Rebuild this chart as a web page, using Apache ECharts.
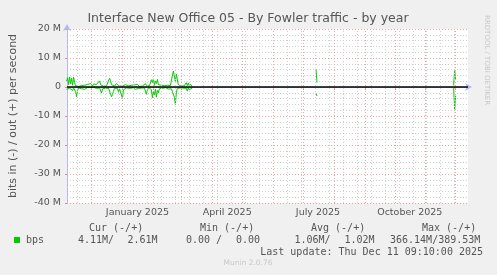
<!DOCTYPE html>
<html><head><meta charset="utf-8">
<script src="https://cdn.jsdelivr.net/npm/echarts@6/dist/echarts.min.js"></script>
<style>html,body{margin:0;padding:0;background:#F0F0F0;}#c{width:497px;height:275px;}</style>
</head><body><div id="c"></div>
<script>
// ---- data ----
const graphStart = '2024-11-06T09:10:00Z';
const graphEnd = '2025-12-11T09:10:00Z';
const yTicks = [-40, -30, -20, -10, 0, 10, 20]; // millions
const monthStarts = ['2024-12-01','2025-01-01','2025-02-01','2025-03-01','2025-04-01','2025-05-01','2025-06-01','2025-07-01','2025-08-01','2025-09-01','2025-10-01','2025-11-01','2025-12-01'];
const xLabelDates = ['2025-01-16','2025-04-16','2025-07-16','2025-10-16'];
const xLabelTexts = ['January 2025','April 2025','July 2025','October 2025'];
const minorGridFirst = '2024-11-17';
const segStarts = ['2024-11-06', '2025-07-14', '2025-11-29'];
// out (+) values, Mbit/s, one per day
const outSeg1 = [2.0,3.2,0.8,3.5,1.0,3.0,0.6,3.4,1.5,0.4, 0.3,0.5,0.2,0.6,0.3,0.5,0.8,0.3,0.6,0.2,
 0.5,0.9,1.1,0.7,1.2,1.0,0.3,1.0,1.2,0.5, 0.9,1.2,0.6,2.1,0.8,0.3,0.5,0.3,0.6,0.2,
 0.4,0.7,1.0,3.0,2.2,0.8,0.4,0.6,0.3,0.5, 1.2,1.2,0.8,0.3,0.2,0.5,0.3,0.6,0.2,0.8,
 0.5,0.9,0.4,0.7,0.3,0.6,1.0,0.4,0.7,0.3, 0.6,0.9,0.4,0.2,0.5,0.8,0.3,0.6,0.4,1.2,
 0.5,0.3,0.6,0.4,0.8,2.5,1.5,2.8,0.6,2.0, 1.2,2.6,0.8,0.5,0.3,0.6,0.4,0.2,0.5,0.8,
 0.3,0.6,0.4,0.9,0.5,0.3,1.0,5.5,6.0,2.0, 4.4,3.8,0.8,0.4,0.6,0.3,0.5,0.2,0.4,0.3,
 1.5,0.5,1.4,0.3,1.0,0.4,0.2];
const inSeg1 = [0.8,0.3,1.4,0.4,1.0,0.5,1.2,0.3,0.8,1.6, 3.4,1.2,0.3,0.5,0.2,0.6,0.3,0.4,0.8,0.3,
 0.4,0.2,0.1,0.3,0.2,0.6,0.2,0.1,0.3,0.2, 0.5,0.3,0.2,0.3,0.9,2.1,0.6,0.3,0.2,0.5,
 0.3,0.2,0.4,0.3,1.0,3.4,2.5,1.5,0.4,0.3, 0.6,0.5,1.8,0.6,0.5,1.2,3.9,1.0,0.4,0.5,
 0.3,0.7,0.3,0.5,0.9,0.4,0.3,0.6,0.2,0.8, 0.4,0.3,0.5,0.3,0.7,0.4,0.2,0.5,0.3,0.6,
 2.5,1.0,0.4,0.3,0.5,1.0,3.7,1.5,2.8,0.8, 3.5,1.2,2.0,0.6,0.4,0.3,0.5,0.3,0.6,0.2,
 0.4,0.3,0.7,0.3,0.4,0.6,0.5,1.0,3.5,6.0, 2.0,0.5,0.4,0.6,0.3,0.5,0.2,0.4,0.3,0.5,
 0.4,1.4,0.3,1.0,0.5,1.2,0.3];
const outSeg2 = [6.1, 1.5];
const inSeg2 = [2.3, 3.1];
const outSeg3 = [0.6, 5.8, 2.5];
const inSeg3 = [0.4, 8.0, 3.0];
const legendHeaders = ['Cur (-/+)','Min (-/+)','Avg (-/+)','Max (-/+)'];
const seriesName = 'bps';
const curVals = ['4.11M/', '2.61M'];
const minVals = ['0.00 /', '0.00'];
const avgVals = ['1.06M/', '1.02M'];
const maxVals = ['366.14M/389.53M'];
const lastUpdate = 'Last update: Thu Dec 11 09:10:00 2025';
const titleText = 'Interface New Office 05 - By Fowler traffic - by year';
const yName = 'bits in (-) / out (+) per second';

// ---- helpers ----
const DAY = 86400000;
const t0 = Date.parse(graphStart);
const dayOf = s => (Date.parse(s.length === 10 ? s + 'T00:00:00Z' : s) - t0) / DAY;
const xMax = dayOf(graphEnd) + 2;
function segData(start, vals, sign) {
  const d0 = dayOf(start);
  return vals.map((v, i) => [d0 + i, sign * v * 1e6]);
}
function joinSegs(segs, sign) {
  let out = [];
  segs.forEach((s, k) => {
    if (k > 0) out.push([dayOf(segStarts[k]) - 0.5, null]);
    out = out.concat(segData(segStarts[k], s, sign));
  });
  return out;
}
const outData = joinSegs([outSeg1, outSeg2, outSeg3], 1);
const inData = joinSegs([inSeg1, inSeg2, inSeg3], -1);
const minorDays = [];
for (let d = dayOf(minorGridFirst); d < xMax; d += 14) minorDays.push(d);
const majorDays = monthStarts.map(dayOf);

const green = '#00CC00';
const chart = echarts.init(document.getElementById('c'), null, {renderer: 'canvas'});
const vline = (d, color) => ({xAxis: d, lineStyle: {color: color, type: [1, 2], width: 1}});
chart.setOption({
  animation: false,
  backgroundColor: '#F0F0F0',
  grid: {left: 66, top: 29, width: 402, height: 174, backgroundColor: '#FFFFFF', show: true, borderWidth: 0},
  xAxis: {
    type: 'value', min: 0, max: xMax,
    axisLine: {show: true, lineStyle: {color: '#B8B8F0', width: 1}, symbol: ['none', 'arrow'], symbolSize: [6, 7], symbolOffset: [0, 4]},
    axisTick: {show: true, customValues: majorDays, length: 3, inside: false, lineStyle: {color: '#E88888'}},
    axisLabel: {show: true, customValues: xLabelDates.map(dayOf),
      formatter: v => { const i = xLabelDates.map(dayOf).findIndex(d => Math.abs(d - v) < 0.01); return i >= 0 ? xLabelTexts[i] : ''; },
      color: '#555555', fontFamily: 'DejaVu Sans', fontSize: 9.5, margin: 5},
    splitLine: {show: false}
  },
  yAxis: {
    type: 'value', min: yTicks[0] * 1e6, max: yTicks[yTicks.length - 1] * 1e6, interval: 10e6,
    name: yName, nameLocation: 'middle', nameGap: 48, nameRotate: 90,
    nameTextStyle: {color: '#555555', fontFamily: 'DejaVu Sans', fontSize: 11},
    axisLine: {show: true, lineStyle: {color: '#B8B8F0', width: 1}, symbol: ['none', 'arrow'], symbolSize: [6, 7], symbolOffset: [0, 5]},
    axisTick: {show: true, length: 2, lineStyle: {color: '#E88888'}},
    minorTick: {show: false, splitNumber: 5},
    axisLabel: {color: '#555555', fontFamily: 'DejaVu Sans', fontSize: 9.5, margin: 6,
      formatter: v => v === 0 ? '0' : (v / 1e6) + ' M'},
    splitLine: {show: true, lineStyle: {color: '#EAA6A6', type: [1, 2], width: 1}},
    minorSplitLine: {show: true, lineStyle: {color: '#D0D0D0', type: [1, 2], width: 1}}
  },
  series: [
    {type: 'line', data: [], z: 1, silent: true,
      markLine: {silent: true, symbol: ['none', 'none'], label: {show: false}, animation: false,
        data: minorDays.map(d => vline(d, '#D0D0D0')).concat(majorDays.map(d => vline(d, '#EAA6A6')))}},
    {type: 'line', name: 'out', data: outData, showSymbol: false, connectNulls: false, z: 3,
      lineStyle: {color: green, width: 1}, itemStyle: {color: green}},
    {type: 'line', name: 'in', data: inData, showSymbol: false, connectNulls: false, z: 3,
      lineStyle: {color: green, width: 1}, itemStyle: {color: green}},
    {type: 'line', data: [], z: 5, silent: true,
      markLine: {silent: true, symbol: ['none', 'none'], label: {show: false}, animation: false,
        data: [{yAxis: 0, lineStyle: {color: '#000000', type: 'solid', width: 1.5}}]}}
  ],
  graphic: [
    {type: 'text', x: 248, y: 19, style: {text: titleText, fill: '#555555', font: '12.5px "DejaVu Sans"', align: 'center', verticalAlign: 'middle'}},
    {type: 'text', x: 487, y: 15, rotation: -Math.PI / 2, style: {text: 'RRDTOOL / TOBI OETIKER', fill: '#C8C8C8', font: '7px "DejaVu Sans"', align: 'left', verticalAlign: 'middle'}},
    {type: 'text', x: 89, y: 228, style: {text: legendHeaders[0], fill: '#555555', font: '10px "DejaVu Sans Mono"', verticalAlign: 'middle'}},
    {type: 'text', x: 200, y: 228, style: {text: legendHeaders[1], fill: '#555555', font: '10px "DejaVu Sans Mono"', verticalAlign: 'middle'}},
    {type: 'text', x: 311, y: 228, style: {text: legendHeaders[2], fill: '#555555', font: '10px "DejaVu Sans Mono"', verticalAlign: 'middle'}},
    {type: 'text', x: 422, y: 228, style: {text: legendHeaders[3], fill: '#555555', font: '10px "DejaVu Sans Mono"', verticalAlign: 'middle'}},
    {type: 'rect', shape: {x: 14, y: 237, width: 6, height: 6}, style: {fill: green}},
    {type: 'text', x: 26, y: 240, style: {text: seriesName, fill: '#555555', font: '10px "DejaVu Sans Mono"', verticalAlign: 'middle'}},
    {type: 'text', x: 78, y: 240, style: {text: curVals[0], fill: '#555555', font: '10px "DejaVu Sans Mono"', verticalAlign: 'middle'}},
    {type: 'text', x: 127.5, y: 240, style: {text: curVals[1], fill: '#555555', font: '10px "DejaVu Sans Mono"', verticalAlign: 'middle'}},
    {type: 'text', x: 186, y: 240, style: {text: minVals[0], fill: '#555555', font: '10px "DejaVu Sans Mono"', verticalAlign: 'middle'}},
    {type: 'text', x: 236, y: 240, style: {text: minVals[1], fill: '#555555', font: '10px "DejaVu Sans Mono"', verticalAlign: 'middle'}},
    {type: 'text', x: 294.5, y: 240, style: {text: avgVals[0], fill: '#555555', font: '10px "DejaVu Sans Mono"', verticalAlign: 'middle'}},
    {type: 'text', x: 344.5, y: 240, style: {text: avgVals[1], fill: '#555555', font: '10px "DejaVu Sans Mono"', verticalAlign: 'middle'}},
    {type: 'text', x: 390, y: 240, style: {text: maxVals[0], fill: '#555555', font: '10px "DejaVu Sans Mono"', verticalAlign: 'middle'}},
    {type: 'text', x: 483, y: 252, style: {text: lastUpdate, fill: '#555555', font: '10px "DejaVu Sans Mono"', align: 'right', verticalAlign: 'middle'}},
    {type: 'text', x: 248, y: 263.5, style: {text: 'Munin 2.0.76', fill: '#C8C8C8', font: '7.5px "DejaVu Sans"', align: 'center', verticalAlign: 'middle'}}
  ]
});
</script></body></html>
